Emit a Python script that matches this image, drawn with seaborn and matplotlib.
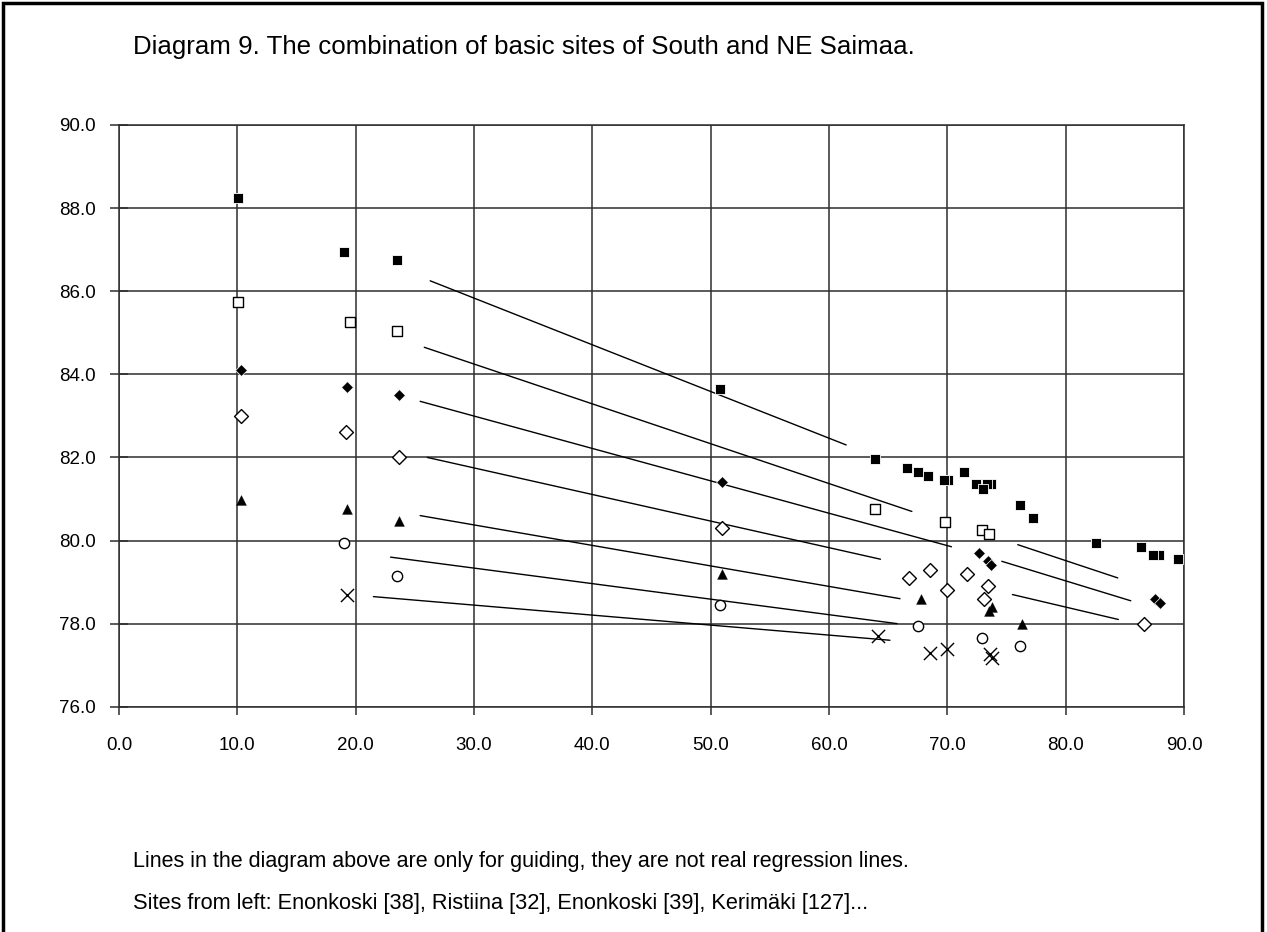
import seaborn as sns
import numpy as np
from matplotlib import pyplot as plt
from matplotlib.patches import Rectangle

# filled squares
sq_x = [10.1, 19.05, 23.5, 50.8, 63.9, 66.55, 67.55, 68.35, 70.05, 69.75, 71.45, 72.45,
        73.65, 73.35, 73.0, 76.1, 77.25, 82.55, 86.4, 87.9, 87.4, 89.5]
sq_y = [88.25, 86.95, 86.75, 83.65, 81.95, 81.75, 81.65, 81.55, 81.45, 81.45, 81.65, 81.35,
        81.35, 81.35, 81.25, 80.85, 80.55, 79.95, 79.85, 79.65, 79.65, 79.55]

# open squares
osq_x = [10.1, 19.5, 23.5, 63.9, 69.8, 72.95, 73.5]
osq_y = [85.75, 85.25, 85.05, 80.75, 80.45, 80.25, 80.15]

# filled diamonds
dia_x = [10.3, 19.25, 23.7, 51.0, 72.65, 73.4, 73.7, 87.55, 88.0]
dia_y = [84.1, 83.7, 83.5, 81.4, 79.7, 79.5, 79.4, 78.6, 78.5]

# open diamonds
odia_x = [10.3, 19.2, 23.7, 51.0, 66.75, 68.55, 69.95, 71.65, 73.45, 73.1, 86.6]
odia_y = [83.0, 82.6, 82.0, 80.3, 79.1, 79.3, 78.8, 79.2, 78.9, 78.6, 78.0]

# filled triangles
tri_x = [10.3, 19.25, 23.7, 51.0, 67.75, 73.5, 73.75, 76.3]
tri_y = [80.97, 80.77, 80.48, 79.2, 78.6, 78.3, 78.4, 78.0]

# open circles
circ_x = [19.05, 23.5, 50.8, 67.55, 72.95, 76.1]
circ_y = [79.95, 79.15, 78.45, 77.95, 77.65, 77.45]

# crosses
cross_x = [19.25, 64.1, 68.55, 69.95, 73.6, 73.75]
cross_y = [78.7, 77.7, 77.3, 77.38, 77.28, 77.18]

# guiding lines (start x, start y, end x, end y)
guide_x0 = [26.3, 25.8, 25.45, 26.05, 25.45, 22.95, 21.5, 75.95, 74.6, 75.5]
guide_y0 = [86.25, 84.65, 83.35, 82.0, 80.6, 79.6, 78.65, 79.9, 79.5, 78.7]
guide_x1 = [61.45, 67.0, 70.35, 64.35, 66.0, 65.75, 65.15, 84.4, 85.5, 84.45]
guide_y1 = [82.3, 80.7, 79.85, 79.55, 78.6, 78.0, 77.6, 79.1, 78.55, 78.1]

x_ticks = np.arange(0, 91, 10)
y_ticks = np.arange(76, 91, 2)

title = 'Diagram 9. The combination of basic sites of South and NE Saimaa.'
note1 = 'Lines in the diagram above are only for guiding, they are not real regression lines.'
note2 = 'Sites from left: Enonkoski [38], Ristiina [32], Enonkoski [39], Kerimäki [127]...'

sns.set_style('white')
plt.rcParams['font.family'] = ['Liberation Sans', 'DejaVu Sans']
plt.rcParams['text.color'] = 'black'
plt.rcParams['xtick.labelcolor'] = 'black'
plt.rcParams['ytick.labelcolor'] = 'black'

fig = plt.figure(figsize=(12.67, 9.32), dpi=100)
ax = fig.add_axes([0.0939, 0.2417, 0.8406, 0.6242])

grid_col = '#2e2e2e'
for x in x_ticks:
    ax.axvline(x, color=grid_col, lw=1.1, zorder=0)
for y in y_ticks:
    ax.axhline(y, color=grid_col, lw=1.1, zorder=0)

for i in range(len(guide_x0)):
    sns.lineplot(x=[guide_x0[i], guide_x1[i]], y=[guide_y0[i], guide_y1[i]],
                 color='black', lw=1.0, ax=ax, zorder=1)

sns.scatterplot(x=sq_x, y=sq_y, marker='s', s=46, color='black', edgecolor='white',
                linewidth=0.6, ax=ax, zorder=3, clip_on=False)
sns.scatterplot(x=osq_x, y=osq_y, marker='s', s=62, facecolor='white', edgecolor='black',
                linewidth=1.0, ax=ax, zorder=3)
sns.scatterplot(x=dia_x, y=dia_y, marker='D', s=36, color='black', edgecolor='white',
                linewidth=0.5, ax=ax, zorder=3)
sns.scatterplot(x=odia_x, y=odia_y, marker='D', s=50, facecolor='white', edgecolor='black',
                linewidth=1.0, ax=ax, zorder=3)
sns.scatterplot(x=tri_x, y=tri_y, marker='^', s=50, color='black', edgecolor='black',
                linewidth=0.3, ax=ax, zorder=3)
sns.scatterplot(x=circ_x, y=circ_y, marker='o', s=55, facecolor='white', edgecolor='black',
                linewidth=1.0, ax=ax, zorder=3)
sns.scatterplot(x=cross_x, y=cross_y, marker='x', s=90, color='black',
                linewidth=1.0, ax=ax, zorder=3)

ax.set_xlim(0, 90)
ax.set_ylim(76, 90)
ax.set_xticks(x_ticks)
ax.set_yticks(y_ticks)
ax.set_xticklabels(['{:.1f}'.format(v) for v in x_ticks])
ax.set_yticklabels(['{:.1f}'.format(v) for v in y_ticks])
ax.tick_params(axis='x', direction='out', length=6, width=1.1, color=grid_col,
               pad=16, labelsize=13.5)
ax.tick_params(axis='y', direction='inout', length=13, width=1.1, color=grid_col,
               pad=10, labelsize=13.5)
ax.tick_params(bottom=True, left=True)
for sp in ax.spines.values():
    sp.set_color(grid_col)
    sp.set_linewidth(1.1)

fig.text(133 / 1267, 1 - 47 / 932, title, fontsize=18.6, va='center', ha='left')
fig.text(133 / 1267, 1 - 862 / 932, note1, fontsize=15.5, va='center', ha='left')
fig.text(133 / 1267, 1 - 903 / 932, note2, fontsize=15.7, va='center', ha='left')

fig.add_artist(Rectangle((3 / 1267, -0.05), 1259 / 1267, 1.05 - 3 / 932,
                         transform=fig.transFigure, fill=False, lw=2.5,
                         edgecolor='black'))

fig.savefig('out.png', dpi=100)
